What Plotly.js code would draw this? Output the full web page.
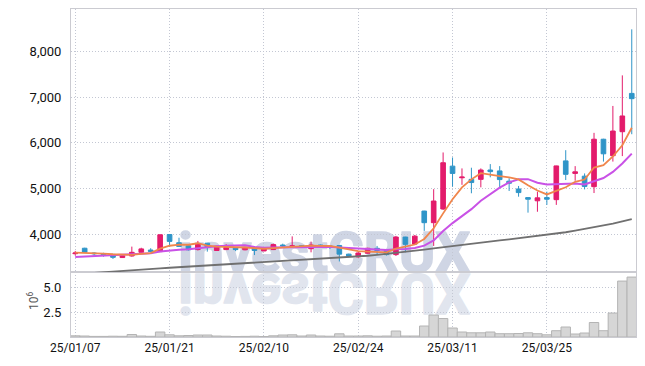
<!DOCTYPE html>
<html>
<head>
<meta charset="utf-8">
<script src="https://cdn.plot.ly/plotly-3.0.1.min.js"></script>
<style>html,body{margin:0;padding:0;background:#fff;}#chart{width:645px;height:366px;}</style>
</head>
<body>
<div id="chart"></div>
<script>
const dates = ["25/01/07","25/01/08","25/01/09","25/01/10","25/01/13","25/01/14","25/01/15","25/01/16","25/01/17","25/01/20",
"25/01/21","25/01/22","25/01/23","25/01/24","25/01/31","25/02/03","25/02/04","25/02/05","25/02/06","25/02/07",
"25/02/10","25/02/11","25/02/12","25/02/13","25/02/14","25/02/17","25/02/18","25/02/19","25/02/20","25/02/21",
"25/02/24","25/02/25","25/02/26","25/02/27","25/02/28","25/03/04","25/03/05","25/03/06","25/03/07","25/03/10",
"25/03/11","25/03/12","25/03/13","25/03/14","25/03/17","25/03/18","25/03/19","25/03/20","25/03/21","25/03/24",
"25/03/25","25/03/26","25/03/27","25/03/28","25/03/31","25/04/01","25/04/02","25/04/03","25/04/04","25/04/07"];

const openP  = [3570,3690,3585,3565,3555,3485,3520,3600,3650,3615, 3990,3810,3745,3660,3800,3640,3660,3690,3655,3700,
                3630,3660,3760,3710,3745,3680,3760,3740,3750,3560, 3500,3580,3688,3640,3550,3935,3780,4505,4250,4550,
                5490,5235,5200,5200,5405,5385,5160,4990,4800,4730, 4800,4755,5605,5330,5270,5040,6080,5720,6245,7085];
const highP  = [3630,3700,3600,3590,3560,3530,3725,3700,3690,3990, 3995,3920,3760,3850,3805,3740,3780,3700,3720,3705,
                3680,3790,3790,3950,3760,3835,3770,3750,3760,3570, 3600,3700,3740,3650,3960,3940,3980,4510,4985,5790,
                5680,5440,5455,5440,5535,5490,5225,5055,4805,4930, 4930,5500,5840,5490,5330,6220,6090,6810,7480,8490];
const lowP   = [3530,3590,3520,3505,3455,3480,3505,3595,3610,3610, 3730,3720,3640,3640,3615,3630,3650,3625,3645,3540,
                3625,3650,3700,3700,3700,3600,3720,3670,3400,3490, 3480,3570,3560,3530,3520,3600,3770,4070,3740,4530,
                5040,5080,4895,5025,5245,5010,4945,4820,4470,4490, 4640,4640,5185,5170,4980,4900,5590,5590,5710,6190];
const closeP = [3585,3600,3570,3545,3490,3525,3600,3675,3620,3985, 3840,3730,3655,3785,3720,3735,3705,3660,3710,3640,
                3675,3770,3740,3745,3730,3760,3740,3720,3560,3520, 3585,3688,3640,3550,3935,3775,3955,4250,4725,5565,
                5330,5250,5130,5405,5370,5195,5115,4910,4765,4795, 4765,5495,5310,5365,5045,6080,5760,6260,6590,6970];

const ma5  = [3595,3590,3580,3570,3558,3546,3546,3567,3582,3681, 3744,3770,3766,3799,3746,3725,3720,3721,3706,3690,
              3678,3691,3707,3714,3732,3749,3743,3739,3702,3660, 3625,3615,3599,3597,3680,3718,3771,3893,4128,4454,
              4765,5024,5200,5336,5297,5270,5243,5199,5071,4956, 4870,4946,5026,5146,5196,5459,5512,5702,5947,6332];
const ma10 = [3495,3505,3515,3520,3525,3535,3550,3565,3580,3620, 3645,3658,3667,3691,3714,3735,3745,3744,3753,3718,
              3702,3706,3714,3710,3711,3714,3717,3723,3708,3696, 3687,3679,3669,3649,3670,3671,3693,3746,3862,4067,
              4241,4398,4547,4732,4876,5018,5134,5200,5204,5127, 5090,5100,5113,5109,5090,5165,5229,5364,5547,5764];
const ma60 = [3120,3135,3150,3175,3190,3200,3212,3225,3238,3250, 3262,3274,3290,3305,3320,3332,3345,3355,3367,3378,
              3390,3400,3410,3422,3433,3445,3455,3468,3480,3492, 3505,3525,3545,3565,3590,3612,3635,3660,3685,3712,
              3740,3765,3790,3815,3838,3860,3885,3910,3935,3958, 3980,4010,4040,4075,4110,4150,4190,4230,4280,4330];

// volume in units of 10^6 shares
const volumeM = [0.12,0.10,0.06,0.06,0.08,0.07,0.25,0.10,0.07,0.50, 0.22,0.12,0.15,0.20,0.20,0.10,0.08,0.05,0.06,0.08,
                 0.05,0.12,0.20,0.22,0.10,0.20,0.10,0.08,0.32,0.10, 0.10,0.12,0.08,0.10,0.60,0.10,0.10,1.10,2.20,1.85,
                 0.90,0.50,0.42,0.42,0.50,0.33,0.33,0.35,0.42,0.33, 0.22,0.63,1.00,0.30,0.40,1.45,0.63,2.40,5.60,6.00];

const tickDates = ["25/01/07","25/01/21","25/02/10","25/02/24","25/03/11","25/03/25"];
const priceTicks = [4000,5000,6000,7000,8000];
const volTicks = [2.5,5.0];
const volTickText = ["2.5","5.0"];

const UP = '#e31b6b', DOWN = '#2f95c8';
const gridC = '#c3c7d3', lineC = '#cbcbd1';
const gridDash = '1px,2px';

const traces = [
  {type:'bar', x:dates, y:volumeM, xaxis:'x', yaxis:'y',
   marker:{color:'#d6d6d6', line:{color:'#b4b4b4', width:1}}, hoverinfo:'skip'},
  {type:'candlestick', x:dates, open:openP, high:highP, low:lowP, close:closeP, xaxis:'x2', yaxis:'y2',
   increasing:{line:{color:UP, width:1}, fillcolor:UP},
   decreasing:{line:{color:DOWN, width:1}, fillcolor:DOWN},
   whiskerwidth:0, hoverinfo:'skip'},
  {type:'scatter', mode:'lines', x:dates, y:ma60, xaxis:'x2', yaxis:'y2', line:{color:'#707070', width:1.8}, hoverinfo:'skip'},
  {type:'scatter', mode:'lines', x:dates, y:ma10, xaxis:'x2', yaxis:'y2', line:{color:'#c952e6', width:2}, hoverinfo:'skip'},
  {type:'scatter', mode:'lines', x:dates, y:ma5, xaxis:'x2', yaxis:'y2', line:{color:'#f0864c', width:1.8}, hoverinfo:'skip'}
];

const xBase = {
  type:'category', categoryorder:'array', categoryarray:dates,
  range:[-0.45, 59.45], tickvals:tickDates, ticktext:tickDates,
  showgrid:true, gridcolor:gridC, griddash:gridDash, gridwidth:1,
  showline:true, mirror:true, linecolor:lineC, linewidth:1,
  ticks:'', zeroline:false, rangeslider:{visible:false}
};

const layout = {
  width:645, height:366,
  margin:{l:71, r:9, t:9, b:29, pad:0},
  paper_bgcolor:'#ffffff', plot_bgcolor:'rgba(0,0,0,0)',
  showlegend:false, bargap:0,
  font:{family:'Roboto', size:13, color:'#1a1a1a'},
  xaxis:Object.assign({}, xBase, {anchor:'y', tickfont:{family:'Roboto', size:12, color:'#111'}}),
  xaxis2:Object.assign({}, xBase, {anchor:'y2', showticklabels:false}),
  yaxis:{domain:[0,0.197], range:[0,6.47], tickvals:volTicks, ticktext:volTickText,
         showgrid:true, gridcolor:gridC, griddash:gridDash, showline:true, mirror:true, linecolor:lineC,
         zeroline:false, ticks:'', ticklabelstandoff:6, tickfont:{family:'Roboto', size:13, color:'#111'}},
  yaxis2:{domain:[0.197,1], range:[3160,8936], tickvals:priceTicks, tickformat:',d',
          showgrid:true, gridcolor:gridC, griddash:gridDash, showline:true, mirror:true, linecolor:lineC,
          zeroline:false, ticks:'', ticklabelstandoff:6, tickfont:{family:'Roboto', size:13, color:'#111'}},
  annotations:[
    {text:'10<sup>6</sup>', xref:'paper', yref:'paper', x:-0.067, y:0.11, xanchor:'center', yanchor:'middle',
     textangle:-90, showarrow:false, font:{family:'Roboto', size:12, color:'#555'}}
  ]
};

const gd = document.getElementById('chart');
Plotly.newPlot(gd, traces, layout, {staticPlot:true, displayModeBar:false}).then(function(){
  const NS = 'http://www.w3.org/2000/svg';
  const svg = gd.querySelector('.main-svg');
  const cart = svg.querySelector('.cartesianlayer');
  const fl = gd._fullLayout;
  const ya2 = fl.yaxis2, xa = fl.xaxis;
  const baseY = ya2._offset + ya2._length;       // bottom of the price panel
  const leftX = xa._offset + 0.19 * xa._length;   // start of the watermark
  const g = document.createElementNS(NS, 'g');
  g.setAttribute('class', 'watermark');
  function mk(fill, transform){
    const t = document.createElementNS(NS, 'text');
    t.setAttribute('x', leftX);
    t.setAttribute('y', baseY);
    t.setAttribute('font-family', 'Roboto');
    t.setAttribute('font-weight', 'bold');
    t.setAttribute('font-size', '55');
    t.setAttribute('fill', fill);
    t.setAttribute('stroke', fill);
    t.setAttribute('stroke-width', '1.6');
    t.setAttribute('stroke-linejoin', 'round');
    if (transform) t.setAttribute('transform', transform);
    t.textContent = 'investCRUX';
    return t;
  }
  g.appendChild(mk('#e1e5ee', 'translate(0,' + (2 * baseY + 2) + ') scale(1,-1)'));
  g.appendChild(mk('#cfd5e4', null));
  svg.insertBefore(g, cart);
});
</script>
</body>
</html>
